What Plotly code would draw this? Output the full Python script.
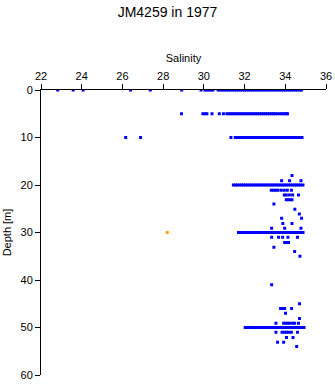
import plotly.graph_objects as go

# Salinity samples by depth (m)
sal_0m = [22.82, 23.58, 24.07, 26.40, 27.37, 28.91, 29.86, 30.05, 30.15, 30.25, 30.35, 30.45,
          30.7, 30.8, 30.9, 31.0, 31.1, 31.2, 31.3, 31.4, 31.5, 31.6, 31.7, 31.8, 31.9, 32.0,
          32.1, 32.2, 32.3, 32.4, 32.5, 32.6, 32.7, 32.8, 32.9, 33.0, 33.1, 33.2, 33.3, 33.4,
          33.5, 33.6, 33.7, 33.8, 33.9, 34.0, 34.1, 34.2, 34.3, 34.4, 34.5, 34.6, 34.7, 34.8]
sal_5m = [28.90, 29.95, 30.05, 30.15, 30.40, 30.76, 30.96,
          31.13, 31.23, 31.33, 31.43, 31.53, 31.63, 31.73, 31.83, 31.93, 32.03, 32.13, 32.23,
          32.33, 32.43, 32.53, 32.63, 32.73, 32.83, 32.93, 33.03, 33.13, 33.23, 33.33, 33.42,
          33.52, 33.62, 33.75, 33.85, 33.95, 34.05, 34.11]
sal_10m = [26.16, 26.89, 31.33,
           31.54, 31.64, 31.74, 31.84, 31.94, 32.04, 32.14, 32.24, 32.34, 32.44, 32.54, 32.64,
           32.74, 32.84, 32.94, 33.04, 33.14, 33.24, 33.34, 33.44, 33.54, 33.64, 33.74, 33.84,
           33.94, 34.04, 34.14, 34.24, 34.34, 34.44, 34.54, 34.64, 34.74, 34.82]
sal_20m = [31.45, 31.55, 31.65, 31.75, 31.85, 31.95, 32.05, 32.15, 32.25, 32.35, 32.45, 32.55,
           32.65, 32.75, 32.85, 32.95, 33.05, 33.15, 33.25, 33.35, 33.45, 33.55, 33.65, 33.75,
           33.85, 33.95, 34.05, 34.15, 34.25, 34.35, 34.45, 34.55, 34.65, 34.75, 34.87]
sal_30m = [31.70, 31.80, 31.90, 32.00, 32.10, 32.20, 32.30, 32.40, 32.50, 32.60, 32.70, 32.80,
           32.90, 33.00, 33.10, 33.20, 33.30, 33.40, 33.50, 33.60, 33.70, 33.80, 33.90, 34.00,
           34.10, 34.20, 34.30, 34.40, 34.50, 34.60, 34.70, 34.80, 34.87]
sal_50m = [32.03, 32.13, 32.23, 32.33, 32.43, 32.53, 32.63, 32.73, 32.83, 32.93, 33.03, 33.13,
           33.23, 33.33, 33.43, 33.53, 33.63, 33.73, 33.83, 33.93, 34.03, 34.13, 34.23, 34.33,
           34.43, 34.53, 34.63, 34.73, 34.83, 34.92]

# Scattered samples (depth, salinity)
scatter_depth = [18.0, 19.1, 19.1, 19.1, 21.1, 21.1, 21.1, 21.1, 21.1, 21.1, 21.1, 21.1,
                 22.1, 22.1, 22.1, 22.1, 22.1, 23.1, 23.1, 23.1, 23.1, 24.0, 25.1, 26.1, 27.0, 27.0,
                 28.1, 28.1, 29.1, 29.1, 29.1, 31.0, 31.0, 31.0, 31.0, 31.0, 32.1, 32.1, 32.1,
                 33.1, 34.0, 35.0,
                 41.0, 45.0, 46.0, 46.0, 46.0, 46.0, 47.0, 48.1,
                 49.1, 49.1, 49.1, 49.1, 49.1, 49.1, 49.1, 49.1,
                 51.0, 51.0, 51.0, 51.0, 51.0, 51.0, 51.0, 52.1, 52.1, 53.1, 53.1, 54.0]
scatter_sal = [34.33, 33.82, 34.21, 34.77, 33.31, 33.42, 33.53, 33.64, 33.80, 33.95, 34.10, 34.30,
               33.95, 34.05, 34.20, 34.36, 34.65, 34.05, 34.15, 34.25, 34.33, 33.44, 34.47, 34.69, 33.82, 34.80,
               33.88, 34.33, 33.33, 33.97, 34.77, 33.33, 33.67, 33.87, 34.13, 34.60, 33.97, 34.07, 34.16,
               33.44, 34.46, 34.72,
               33.33, 34.70, 33.77, 33.87, 33.97, 34.31, 34.01, 34.70,
               33.54, 33.92, 34.02, 34.12, 34.22, 34.36, 34.46, 34.65,
               33.54, 33.84, 33.95, 34.06, 34.18, 34.30, 34.60, 34.06, 34.38, 33.62, 33.92, 34.56]

# Flagged sample
flag_depth = [30.0]
flag_sal = [28.2]

rows = [(0, sal_0m), (5, sal_5m), (10, sal_10m), (20, sal_20m), (30, sal_30m), (50, sal_50m)]
blue_x, blue_y = [], []
for d, vals in rows:
    blue_x += vals
    blue_y += [d] * len(vals)
blue_x += scatter_sal
blue_y += scatter_depth

fig = go.Figure()
fig.add_trace(go.Scatter(x=blue_x, y=blue_y, mode="markers",
                         marker=dict(symbol="square", size=3, color="#0000ff", line=dict(width=0)),
                         showlegend=False))
fig.add_trace(go.Scatter(x=flag_sal, y=flag_depth, mode="markers",
                         marker=dict(symbol="square", size=3, color="#ffa500", line=dict(width=0)),
                         showlegend=False))

font = "Liberation Sans, Arial, sans-serif"
fig.update_layout(
    width=335, height=384,
    margin=dict(l=41, r=9, t=90, b=9),
    paper_bgcolor="white", plot_bgcolor="white",
    font=dict(family=font, size=11, color="black"),
    title=dict(text="JM4259 in 1977", x=0.5, xanchor="center", y=1 - 12 / 384, yanchor="middle",
               font=dict(family=font, size=14, color="black")),
    xaxis=dict(side="top", range=[22, 36], dtick=2, tick0=22, ticks="outside", ticklen=5,
               tickcolor="black", showline=True, linecolor="black", linewidth=1,
               showgrid=False, zeroline=False, automargin=False,
               title=dict(text="Salinity", standoff=4, font=dict(size=11))),
    yaxis=dict(range=[60, 0], dtick=10, tick0=0, ticks="outside", ticklen=5,
               tickcolor="black", showline=True, linecolor="black", linewidth=1,
               showgrid=False, zeroline=False, automargin=False,
               title=dict(text="Depth [m]", standoff=6, font=dict(size=11))),
)

fig.write_html("out.html")
